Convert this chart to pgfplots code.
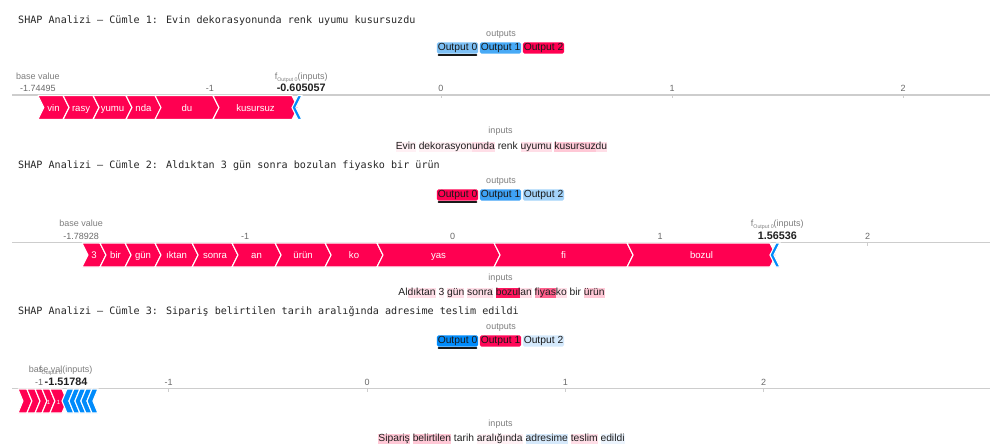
\documentclass[border=0pt]{standalone}
\usepackage{fontspec}
\setmainfont{Liberation Sans}
\newfontfamily\monofont{DejaVu Sans Mono}
\usepackage{pgfplots}
\pgfplotsset{compat=1.18}

\definecolor{shred}{RGB}{255,0,81}
\definecolor{shblue}{RGB}{0,139,251}
\definecolor{axgray}{RGB}{205,205,205}
\definecolor{lblgray}{RGB}{125,125,125}
\definecolor{numgray}{RGB}{105,105,105}
% output boxes
\definecolor{oAa}{RGB}{125,192,245}
\definecolor{oAb}{RGB}{72,170,246}
\definecolor{oAc}{RGB}{255,0,81}
\definecolor{oBa}{RGB}{255,0,81}
\definecolor{oBb}{RGB}{62,162,246}
\definecolor{oBc}{RGB}{162,210,249}
\definecolor{oCa}{RGB}{0,139,251}
\definecolor{oCb}{RGB}{255,8,88}
\definecolor{oCc}{RGB}{212,233,252}
% highlight colours
\definecolor{hlA}{RGB}{255,240,244}
\definecolor{hlB}{RGB}{255,222,231}
\definecolor{hlC}{RGB}{255,200,214}
\definecolor{hlD}{RGB}{255,160,187}
\definecolor{hlE}{RGB}{255,95,140}
\definecolor{hlF}{RGB}{255,22,95}
\definecolor{hbA}{RGB}{214,233,251}
\definecolor{hbB}{RGB}{236,244,253}

\pgfplotsset{
  redpoly/.style={fill=shred, draw=white, line width=1.1pt, line join=miter},
  bluepoly/.style={fill=shblue, draw=white, line width=1.1pt, line join=miter},
  forceax/.style={
    scale only axis, width=978pt, height=26pt,
    ymin=0, ymax=26,
    axis x line=top, axis y line=none,
    axis line style={-, draw=axgray, line width=1.2pt},
    xtick={-1,0,1,2}, xticklabels={-1,0,1,2},
    tick align=inside, major tick length=3pt,
    xtick style={draw=axgray, line width=0.8pt},
    xticklabel style={font=\fontsize{9}{10}\selectfont, text=numgray, anchor=base, yshift=3.5pt, inner sep=0pt},
    ytick=\empty,
    clip=false,
    anchor=north west,
  },
}
\tikzset{
  seglbl/.style={anchor=base, inner sep=0pt, text=white, font=\fontsize{9.6}{10}\selectfont},
  title/.style={anchor=base west, inner sep=0pt, font=\monofont\fontsize{10.1}{12}\selectfont, text=black!85},
  smallgray/.style={anchor=base, inner sep=0pt, font=\fontsize{9}{10}\selectfont, text=lblgray},
  numlbl/.style={anchor=base, inner sep=0pt, font=\fontsize{9}{10}\selectfont, text=numgray, yshift=3.5pt},
  toplbl/.style={anchor=base, inner sep=0pt, font=\fontsize{9}{10}\selectfont, text=lblgray, yshift=15.6pt},
  boldlbl/.style={anchor=base, inner sep=0pt, font=\bfseries\fontsize{10.8}{12}\selectfont, text=black!88, yshift=3.5pt},
  obox/.style={fill=#1, rounded corners=1.5pt, inner xsep=0.8pt, inner ysep=0.6pt, text height=7.6pt, text depth=2.3pt, font=\fontsize{10.3}{12}\selectfont, text=black!90, anchor=center},
  sent/.style={anchor=base, inner sep=0pt, font=\fontsize{10.3}{12}\selectfont, text=black!88},
}

\newcommand{\hl}[2]{{\setlength{\fboxsep}{0pt}\colorbox{#1}{\rule[-2.7pt]{0pt}{10.6pt}#2}}}
\newcommand{\flabel}{f\raisebox{-1.8pt}{\fontsize{5.3}{6}\selectfont Output 0}(inputs)}

\newcommand{\segd}{0.026}
\newcommand{\redseg}[3]{%
  \pgfmathsetmacro\sgA{#1+\segd}%
  \pgfmathsetmacro\sgB{#2+\segd}%
  \pgfmathsetmacro\sgM{(#1+#2+\segd)/2}%
  \edef\sgtmp{\noexpand\addplot[redpoly] coordinates {(#1,25.5) (#2,25.5) (\sgB,13.5) (#2,1.5) (#1,1.5) (\sgA,13.5) (#1,25.5)};}\sgtmp
  \edef\sgtmp{\noexpand\node[seglbl] at (axis cs:\sgM,10.0) {\unexpanded{#3}};}\sgtmp
}
\newcommand{\blueseg}[2]{%
  \pgfmathsetmacro\sgA{#1-\segd}%
  \pgfmathsetmacro\sgB{#2-\segd}%
  \edef\sgtmp{\noexpand\addplot[bluepoly] coordinates {(#1,25.5) (#2,25.5) (\sgB,13.5) (#2,1.5) (#1,1.5) (\sgA,13.5) (#1,25.5)};}\sgtmp
}

\begin{document}
\begin{tikzpicture}[x=1pt,y=1pt]
\path[use as bounding box] (0,0) rectangle (992,-445);

% ---------------- Plot 1 ----------------
\node[title] at (18,-23.6) {SHAP Analizi — Cümle 1: Evin dekorasyonunda renk uyumu kusursuzdu};
\node[smallgray] at (501,-36) {outputs};
\node[obox=oAa] at (457.5,-48) {Output 0};
\node[obox=oAb] at (500.5,-48) {Output 1};
\node[obox=oAc] at (543.5,-48) {Output 2};
\draw[line width=1.8pt, line cap=round, black!90] (438.5,-55) -- (476.5,-55);

\begin{axis}[forceax, at={(12pt,-95pt)}, xmin=-1.857, xmax=2.3766]
  \renewcommand{\segd}{0.026}
  \redseg{-1.745}{-1.636}{vin}
  \redseg{-1.636}{-1.506}{rasy}
  \redseg{-1.506}{-1.364}{yumu}
  \redseg{-1.364}{-1.238}{nda}
  \redseg{-1.238}{-0.987}{du}
  \redseg{-0.987}{-0.645}{kusursuz}
  \blueseg{-0.619}{-0.602}
  \node[toplbl] at (axis cs:-1.74495,26) {base value};
  \node[numlbl] at (axis cs:-1.74495,26) {-1.74495};
  \node[toplbl] at (axis cs:-0.605057,26) {\flabel};
  \node[boldlbl] at (axis cs:-0.605057,26) {-0.605057};
\end{axis}

\node[smallgray] at (500.5,-133.5) {inputs};
\node[sent] at (501.5,-149.7) {\hl{hlA}{Evin} \hl{hlA}{dekorasyon}\hl{hlB}{unda} renk \hl{hlB}{uyumu} \hl{hlC}{kusursuz}\hl{hlB}{du}};

% ---------------- Plot 2 ----------------
\node[title] at (18,-168.6) {SHAP Analizi — Cümle 2: Aldıktan 3 gün sonra bozulan fiyasko bir ürün};
\node[smallgray] at (501,-183) {outputs};
\node[obox=oBa] at (457.5,-195) {Output 0};
\node[obox=oBb] at (500.5,-195) {Output 1};
\node[obox=oBc] at (543.5,-195) {Output 2};
\draw[line width=1.8pt, line cap=round, black!90] (438.5,-202) -- (476.5,-202);

\begin{axis}[forceax, at={(12pt,-242.5pt)}, xmin=-2.1229, xmax=2.5904]
  \renewcommand{\segd}{0.029}
  \redseg{-1.786}{-1.699}{3}
  \redseg{-1.699}{-1.578}{bir}
  \redseg{-1.578}{-1.434}{gün}
  \redseg{-1.434}{-1.255}{ıktan}
  \redseg{-1.255}{-1.063}{sonra}
  \redseg{-1.063}{-0.855}{an}
  \redseg{-0.855}{-0.614}{ürün}
  \redseg{-0.614}{-0.364}{ko}
  \redseg{-0.364}{0.200}{yas}
  \redseg{0.200}{0.841}{fi}
  \redseg{0.841}{1.530}{bozul}
  \blueseg{1.559}{1.578}
  \node[toplbl] at (axis cs:-1.78928,26) {base value};
  \node[numlbl] at (axis cs:-1.78928,26) {-1.78928};
  \node[toplbl] at (axis cs:1.56536,26) {\flabel};
  \node[boldlbl] at (axis cs:1.56536,26) {1.56536};
\end{axis}

\node[smallgray] at (500.5,-280) {inputs};
\node[sent] at (501.5,-295.7) {Al\hl{hlB}{dıktan} \hl{hlA}{3} \hl{hlB}{gün} \hl{hlB}{sonra} \hl{hlF}{bozul}\hl{hlB}{an} \hl{hlD}{fi}\hl{hlE}{yas}\hl{hlB}{ko} bir \hl{hlC}{ürün}};

% ---------------- Plot 3 ----------------
\node[title] at (18,-314.6) {SHAP Analizi — Cümle 3: Sipariş belirtilen tarih aralığında adresime teslim edildi};
\node[smallgray] at (501,-329) {outputs};
\node[obox=oCa] at (457.5,-341) {Output 0};
\node[obox=oCb] at (500.5,-341) {Output 1};
\node[obox=oCc] at (543.5,-341) {Output 2};
\draw[line width=1.8pt, line cap=round, black!90] (438.5,-348) -- (476.5,-348);

\begin{axis}[forceax, at={(12pt,-388.5pt)}, xmin=-1.7902, xmax=3.1417]
  \renewcommand{\segd}{0.025}
  \redseg{-1.760}{-1.715}{}
  \redseg{-1.715}{-1.674}{}
  \redseg{-1.674}{-1.639}{}
  \redseg{-1.639}{-1.599}{\fontsize{6}{6}\selectfont 1}
  \redseg{-1.599}{-1.538}{\fontsize{6}{6}\selectfont 1}
  \blueseg{-1.513}{-1.478}
  \blueseg{-1.478}{-1.448}
  \blueseg{-1.448}{-1.418}
  \blueseg{-1.418}{-1.387}
  \blueseg{-1.387}{-1.357}
  \node[toplbl] at (axis cs:-1.595,26) {base value};
  \node[numlbl, anchor=base west] at (axis cs:-1.674,26) {-1};
  \node[toplbl] at (axis cs:-1.51784,26) {f\raisebox{-1.8pt}{\fontsize{5.3}{6}\selectfont Output 0}{\setlength{\fboxsep}{0.4pt}\colorbox{white}{(inputs)}}};
  \node[boldlbl] at (axis cs:-1.51784,26) {-1.51784};
\end{axis}

\node[smallgray] at (500.5,-426) {inputs};
\node[sent] at (501.5,-441.7) {\hl{hlC}{Sipariş} \hl{hlC}{belirtilen} tarih \hl{hlA}{aralığında} \hl{hbA}{adresime} \hl{hlB}{teslim} \hl{hbB}{edildi}};

\end{tikzpicture}
\end{document}
